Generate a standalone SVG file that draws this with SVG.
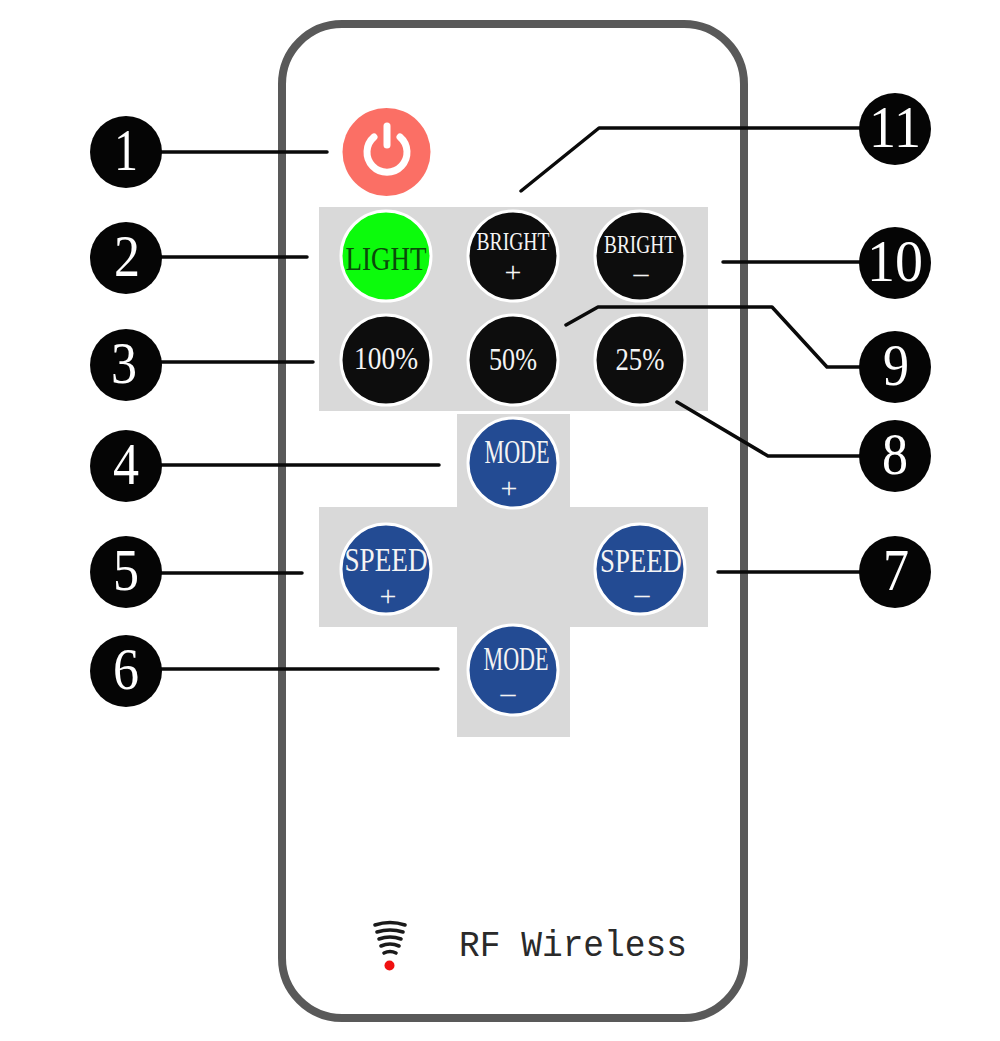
<svg xmlns="http://www.w3.org/2000/svg" width="1000" height="1041" viewBox="0 0 1000 1041">
<style>
text{font-family:"Liberation Serif","Times New Roman",serif;text-anchor:middle}
.btn{stroke:#fff;stroke-width:3}
.k{fill:#0d0d0d}.b{fill:#234b93}
.t{fill:#f4f4f4;font-size:30px}
.num{fill:#fff;font-size:59px}
.numdot{fill:#050505}
.ln{fill:none;stroke:#0a0a0a;stroke-width:3.5;stroke-linecap:round;stroke-linejoin:round}
.sig{fill:none;stroke:#1a1a1a;stroke-width:3.6;stroke-linecap:round}
</style>
<rect width="1000" height="1041" fill="#fff"/>
<g id="remote-body">
<rect x="282" y="24" width="462" height="994" rx="60" fill="#fff" stroke="#595959" stroke-width="8"/>
<path d="M319 207H708V411H319Z" fill="#d9d9d9"/>
<path d="M457 414H570V507H708V627H570V737H457V627H319V507H457Z" fill="#d9d9d9"/>
</g>
<g id="connectors">
<path class="ln" d="M126 152H327"/>
<path class="ln" d="M126 257H307"/>
<path class="ln" d="M126 362H313"/>
<path class="ln" d="M126 465H439"/>
<path class="ln" d="M126 573H302"/>
<path class="ln" d="M126 669H438"/>
<path class="ln" d="M718 572H895"/>
<path class="ln" d="M677 402L768 456H895"/>
<path class="ln" d="M566 325L598 307H772L827 367H895"/>
<path class="ln" d="M723 262H895"/>
<path class="ln" d="M521 191L599 128H895"/>
</g>
<g id="btn-power">
<circle cx="386.500" cy="152" r="44" fill="#fb6f65"/>
<path d="M374 137A20 20 0 1 0 400 137" fill="none" stroke="#fff" stroke-width="7" stroke-linecap="round"/>
<path d="M387 126V145" fill="none" stroke="#fff" stroke-width="7" stroke-linecap="round"/>
</g>
<g id="btn-light">
<circle class="btn" cx="386" cy="256" r="45" fill="#0cfb0c"/>
<text x="386" y="270" font-size="33" fill="#0a4a0a" textLength="81" lengthAdjust="spacingAndGlyphs">LIGHT</text>
</g>
<g id="btn-bright-plus">
<circle class="btn k" cx="513" cy="256" r="45"/>
<text class="t" x="513" y="250" style="font-size:26px" textLength="73" lengthAdjust="spacingAndGlyphs">BRIGHT</text>
<text class="t" x="513" y="282">+</text>
</g>
<g id="btn-bright-minus">
<circle class="btn k" cx="640" cy="256" r="45"/>
<text class="t" x="640" y="253" style="font-size:26px" textLength="72" lengthAdjust="spacingAndGlyphs">BRIGHT</text>
<text class="t" x="641" y="283">–</text>
</g>
<g id="btn-100">
<circle class="btn k" cx="386" cy="360" r="45"/>
<text class="t" x="386" y="369" style="font-size:32px" textLength="64" lengthAdjust="spacingAndGlyphs">100%</text>
</g>
<g id="btn-50">
<circle class="btn k" cx="513" cy="360" r="45"/>
<text class="t" x="513" y="370" style="font-size:32px" textLength="48" lengthAdjust="spacingAndGlyphs">50%</text>
</g>
<g id="btn-25">
<circle class="btn k" cx="640" cy="360" r="45"/>
<text class="t" x="640" y="370" style="font-size:32px" textLength="49" lengthAdjust="spacingAndGlyphs">25%</text>
</g>
<g id="btn-mode-plus">
<circle class="btn b" cx="513" cy="463" r="45"/>
<text class="t" x="517" y="463" style="font-size:33px" textLength="65" lengthAdjust="spacingAndGlyphs">MODE</text>
<text class="t" x="509" y="498">+</text>
</g>
<g id="btn-speed-plus">
<circle class="btn b" cx="386" cy="569" r="45"/>
<text class="t" x="386" y="571" style="font-size:34px" textLength="83" lengthAdjust="spacingAndGlyphs">SPEED</text>
<text class="t" x="388" y="606">+</text>
</g>
<g id="btn-speed-minus">
<circle class="btn b" cx="640" cy="569" r="45"/>
<text class="t" x="641" y="572" style="font-size:34px" textLength="82" lengthAdjust="spacingAndGlyphs">SPEED</text>
<text class="t" x="642" y="604">–</text>
</g>
<g id="btn-mode-minus">
<circle class="btn b" cx="513" cy="670" r="45"/>
<text class="t" x="516" y="670" style="font-size:33px" textLength="65" lengthAdjust="spacingAndGlyphs">MODE</text>
<text class="t" x="508" y="703">–</text>
</g>
<g id="n1"><circle class="numdot" cx="126" cy="152" r="36"/><text class="num" x="126" y="170" textLength="24" lengthAdjust="spacingAndGlyphs">1</text></g>
<g id="n2"><circle class="numdot" cx="126" cy="258" r="36"/><text class="num" x="127" y="276" textLength="26" lengthAdjust="spacingAndGlyphs">2</text></g>
<g id="n3"><circle class="numdot" cx="126" cy="365" r="36"/><text class="num" x="124" y="383" textLength="26" lengthAdjust="spacingAndGlyphs">3</text></g>
<g id="n4"><circle class="numdot" cx="126" cy="466" r="36"/><text class="num" x="126" y="484" textLength="26" lengthAdjust="spacingAndGlyphs">4</text></g>
<g id="n5"><circle class="numdot" cx="126" cy="572" r="36"/><text class="num" x="126" y="590" textLength="26" lengthAdjust="spacingAndGlyphs">5</text></g>
<g id="n6"><circle class="numdot" cx="126" cy="671" r="36"/><text class="num" x="126" y="689" textLength="26" lengthAdjust="spacingAndGlyphs">6</text></g>
<g id="n7"><circle class="numdot" cx="895" cy="572" r="36"/><text class="num" x="896" y="590" textLength="26" lengthAdjust="spacingAndGlyphs">7</text></g>
<g id="n8"><circle class="numdot" cx="895" cy="456" r="36"/><text class="num" x="895" y="474" textLength="26" lengthAdjust="spacingAndGlyphs">8</text></g>
<g id="n9"><circle class="numdot" cx="895" cy="367" r="36"/><text class="num" x="896" y="385" textLength="26" lengthAdjust="spacingAndGlyphs">9</text></g>
<g id="n10"><circle class="numdot" cx="895" cy="263" r="36"/><text class="num" x="895" y="281" textLength="56" lengthAdjust="spacingAndGlyphs">10</text></g>
<g id="n11"><circle class="numdot" cx="895" cy="129" r="36"/><text class="num" x="895" y="147" textLength="52" lengthAdjust="spacingAndGlyphs">11</text></g>
<g id="rf">
<path class="sig" d="M375 925Q390 920 405 925"/>
<path class="sig" d="M377 932Q390 928 403 932"/>
<path class="sig" d="M379 939Q390 935 401 939"/>
<path class="sig" d="M381 946Q390 942 399 946"/>
<path class="sig" d="M384 953Q390 950 396 953"/>
<circle cx="389.500" cy="965.500" r="5" fill="#f01010"/>
<text x="573" y="956" style="font-family:'Liberation Mono',monospace;font-size:36px" fill="#2a2a2a" textLength="228" lengthAdjust="spacingAndGlyphs">RF Wireless</text>
</g>
</svg>
